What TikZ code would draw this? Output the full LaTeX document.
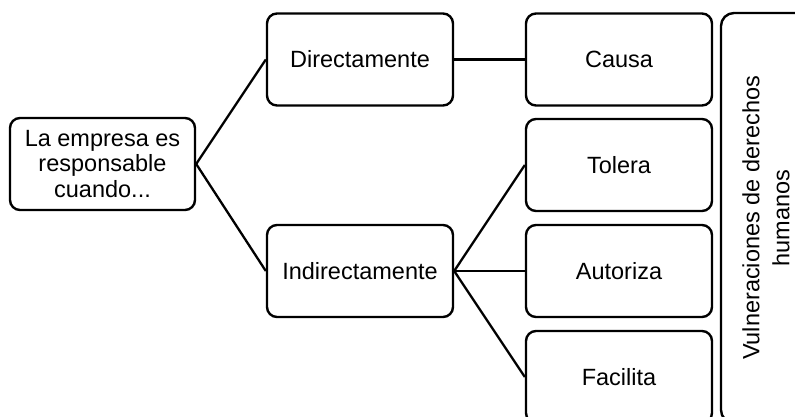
\documentclass[tikz,border=0pt]{standalone}
\usepackage{fontspec}
\setmainfont{Liberation Sans}
\begin{document}
\begin{tikzpicture}[x=1pt,y=-1pt,
  box/.style={draw=black, line width=2.4pt, rounded corners=10pt, inner sep=0pt,
    minimum width=186pt, minimum height=92pt, align=center,
    font=\fontsize{23.5pt}{25.5pt}\selectfont},
  link/.style={draw=black, line width=2.3pt}]
\useasboundingbox (0,0) rectangle (795,417);
\clip (0,0) rectangle (795,417);
\node[box, minimum width=185pt] (L) at (102.5,164) {La empresa es\\responsable\\cuando...};
\node[box] (D) at (360,59.5) {Directamente};
\node[box] (I) at (360,271) {Indirectamente};
\node[box] (C) at (619,59.5) {Causa};
\node[box] (T) at (619,165) {Tolera};
\node[box] (A) at (619,271) {Autoriza};
\node[box] (F) at (619,377) {Facilita};
\node[box, rotate=90, minimum width=410pt, minimum height=90pt, rounded corners=13pt,
  font=\fontsize{23.5pt}{30pt}\selectfont] (R) at (766,218) {Vulneraciones de derechos\\humanos};
\draw[link] (L.east) -- (D.west);
\draw[link] (L.east) -- (I.west);
\draw[link] (D.east) -- (C.west);
\draw[link] (I.east) -- (T.west);
\draw[link] (I.east) -- (A.west);
\draw[link] (I.east) -- (F.west);
\end{tikzpicture}
\end{document}
